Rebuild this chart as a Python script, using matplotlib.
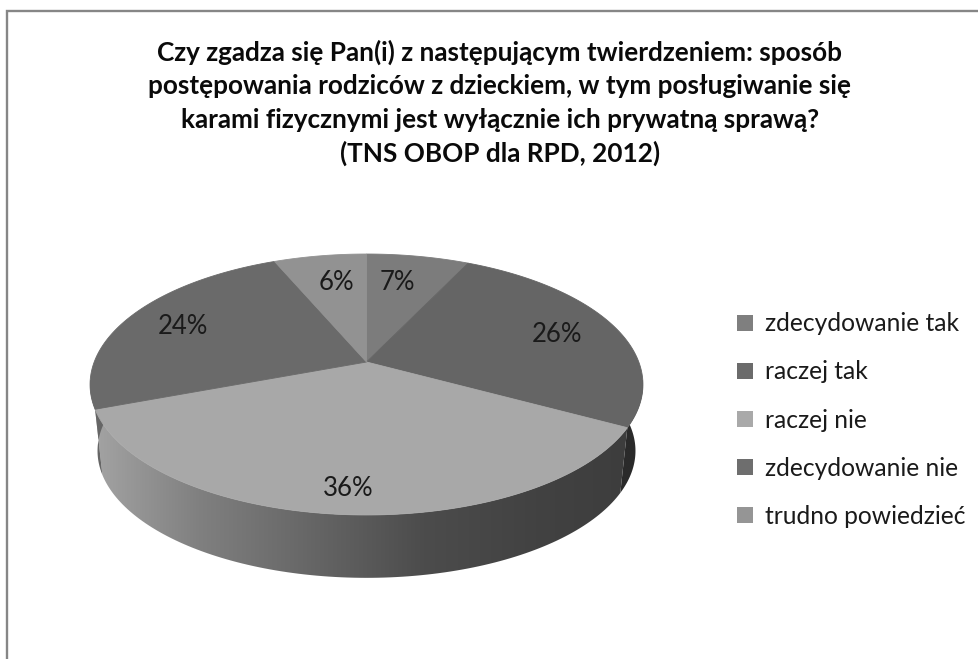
import numpy as np
import matplotlib
matplotlib.use('Agg')
import matplotlib.pyplot as plt
from matplotlib.colors import LinearSegmentedColormap
from matplotlib.patches import Patch, Polygon

plt.rcParams['font.family'] = ['Lato', 'DejaVu Sans']

# data
categories = ['zdecydowanie tak', 'raczej tak', 'raczej nie', 'zdecydowanie nie', 'trudno powiedzieć']
values = [7.1, 25.8, 36.4, 24.3, 6.4]
top_colors = ['#7c7c7c', '#656565', '#a8a8a8', '#6a6a6a', '#929292']
legend_colors = ['#7f7f7f', '#6b6b6b', '#a9a9a9', '#6e6e6e', '#959595']
title_lines = ['Czy zgadza się Pan(i) z następującym twierdzeniem: sposób',
               'postępowania rodziców z dzieckiem, w tym posługiwanie się',
               'karami fizycznymi jest wyłącznie ich prywatną sprawą?',
               '(TNS OBOP dla RPD, 2012)']

# layout, in pixels
title_y = [52, 86, 120, 153]
label_xy = [(397, 283), (557, 335), (348, 488), (183, 326), (336, 283)]
cx, cy = 366.5, 362
a, b, p = 272.3, 126.6, 0.1724   # pie tilt and perspective
depth, shrink = 67, 0.973


def project(theta, scale=1.0, dy=0.0):
    u, v = np.sin(theta), np.cos(theta)
    w = 1 + p * v
    return cx + scale * a * u / w, cy + dy - scale * b * v / w


fig = plt.figure(figsize=(9.79, 6.59), dpi=100, facecolor='white')
ax = fig.add_axes([0, 0, 1, 1])
ax.set_xlim(0, 979)
ax.set_ylim(659, 0)
ax.axis('off')

# frame, open on the right and at the bottom
ax.plot([7, 7, 979], [659, 11, 11], color='#868686', lw=1.7, solid_joinstyle='miter')

edges = np.radians(np.cumsum([0] + values) / sum(values) * 360)

# side wall
wall = LinearSegmentedColormap.from_list('wall', ['#a6a6a6', '#808080', '#666666', '#4c4c4c', '#424242', '#3c3c3c'])
dark = LinearSegmentedColormap.from_list('dark', ['#2a2a2a', '#2a2a2a'])
left = LinearSegmentedColormap.from_list('left', ['#666666', '#666666'])
wall_maps = [None, dark, wall, left, None]
grad = np.linspace(0, 1, 256).reshape(1, -1)
for i in range(len(values)):
    if wall_maps[i] is None:
        continue
    t = np.linspace(edges[i], edges[i + 1], 120)
    tx, ty = project(t)
    bx, by = project(t[::-1], shrink, depth)
    poly = Polygon(np.column_stack([np.r_[tx, bx], np.r_[ty, by]]), closed=True,
                   facecolor='none', edgecolor='none')
    ax.add_patch(poly)
    im = ax.imshow(grad, cmap=wall_maps[i], extent=[85, 650, 600, 380], aspect='auto', zorder=1)
    im.set_clip_path(poly)
ax.set_xlim(0, 979)
ax.set_ylim(659, 0)

# top face
for i in range(len(values)):
    t = np.linspace(edges[i], edges[i + 1], 120)
    x, y = project(t)
    ax.fill(np.r_[cx, x], np.r_[cy, y], color=top_colors[i], lw=0.6, zorder=2)

for (x, y), v in zip(label_xy, values):
    ax.text(x, y, '%d%%' % round(v), fontsize=18.5, color='#1a1a1a', ha='center', va='center', zorder=3)

for y, line in zip(title_y, title_lines):
    ax.text(500, y, line, fontsize=18.8, fontweight='bold', color='#0a0a0a', ha='center', va='center')

handles = [Patch(facecolor=c, edgecolor='none') for c in legend_colors]
ax.legend(handles, categories, loc='center left', bbox_to_anchor=(737 / 979, 1 - 420 / 659),
          frameon=False, fontsize=17.7, labelcolor='#1a1a1a', handlelength=0.65, handleheight=0.65,
          handletextpad=0.5, labelspacing=1.02, borderpad=0, borderaxespad=0)

fig.savefig('out.png', dpi=100)
